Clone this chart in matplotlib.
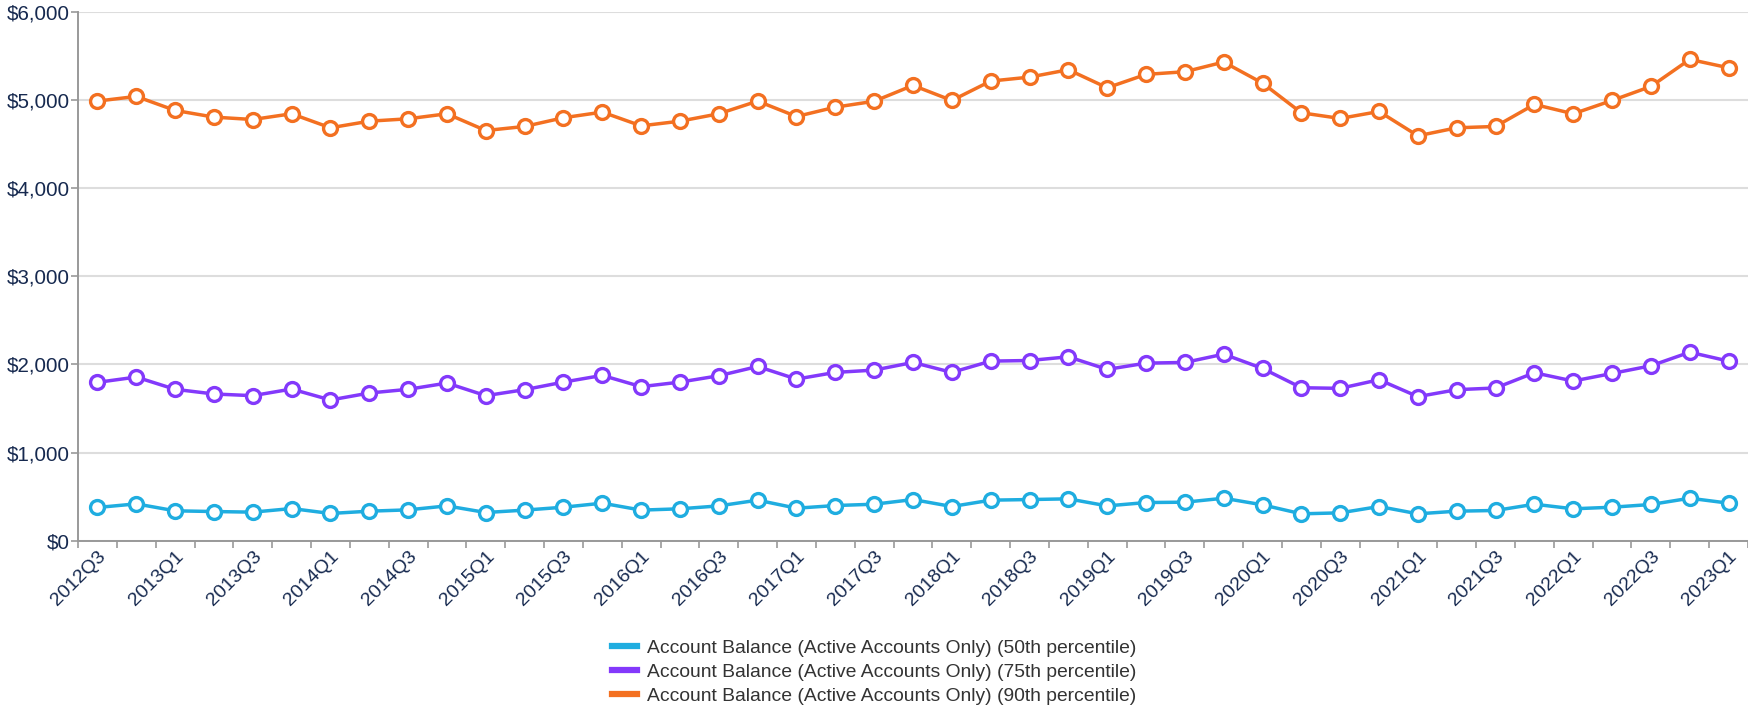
import matplotlib
matplotlib.use("Agg")
import matplotlib.pyplot as plt
from matplotlib.lines import Line2D
from matplotlib.ticker import FuncFormatter, FixedLocator

plt.rcParams["font.family"] = ["Liberation Sans", "DejaVu Sans"]

# ---------------------------------------------------------
# Data
# ---------------------------------------------------------
quarters = [
    "2012Q3", "2012Q4",
    "2013Q1", "2013Q2", "2013Q3", "2013Q4",
    "2014Q1", "2014Q2", "2014Q3", "2014Q4",
    "2015Q1", "2015Q2", "2015Q3", "2015Q4",
    "2016Q1", "2016Q2", "2016Q3", "2016Q4",
    "2017Q1", "2017Q2", "2017Q3", "2017Q4",
    "2018Q1", "2018Q2", "2018Q3", "2018Q4",
    "2019Q1", "2019Q2", "2019Q3", "2019Q4",
    "2020Q1", "2020Q2", "2020Q3", "2020Q4",
    "2021Q1", "2021Q2", "2021Q3", "2021Q4",
    "2022Q1", "2022Q2", "2022Q3", "2022Q4",
    "2023Q1",
]

p50 = [
    377, 418, 339, 331, 324, 365, 309, 335, 350, 395,
    320, 347, 380, 426, 347, 362, 395, 460, 369, 399,
    414, 467, 388, 460, 467, 475, 395, 433, 437, 482,
    407, 305, 316, 388, 305, 335, 343, 414, 362, 380,
    411, 482, 426,
]

p75 = [
    1797, 1857, 1718, 1665, 1646, 1721, 1597, 1676, 1718, 1789,
    1646, 1714, 1800, 1876, 1748, 1800, 1872, 1977, 1834, 1910,
    1936, 2023, 1910, 2038, 2045, 2087, 1944, 2015, 2023, 2117,
    1955, 1736, 1729, 1827, 1635, 1714, 1733, 1906, 1812, 1898,
    1985, 2139, 2038,
]

p90 = [
    4989, 5042, 4883, 4807, 4780, 4845, 4686, 4761, 4788, 4845,
    4655, 4701, 4800, 4864, 4708, 4761, 4845, 4989, 4814, 4920,
    4987, 5167, 4996, 5216, 5261, 5345, 5140, 5292, 5322, 5432,
    5193, 4856, 4792, 4871, 4595, 4686, 4701, 4951, 4845, 4996,
    5155, 5462, 5367,
]

series_labels = [
    "Account Balance (Active Accounts Only) (50th percentile)",
    "Account Balance (Active Accounts Only) (75th percentile)",
    "Account Balance (Active Accounts Only) (90th percentile)",
]
series_colors = ["#1fade0", "#8339fb", "#f37021"]

# ---------------------------------------------------------
# Plot
# ---------------------------------------------------------
fig = plt.figure(figsize=(17.48, 7.09), dpi=100)
ax = fig.add_axes([78 / 1748, 168.3 / 709, 1670 / 1748, 528.7 / 709])

x = list(range(len(quarters)))
for values, color in zip([p50, p75, p90], series_colors):
    ax.plot(x, values, color=color, lw=2.5, marker="o", markersize=10,
            markerfacecolor="white", markeredgecolor=color,
            markeredgewidth=2.4, zorder=3)

ax.set_xlim(-0.5, len(quarters) - 0.5)
ax.set_ylim(0, 6000)

# y axis
ax.set_yticks(range(0, 6001, 1000))
ax.yaxis.set_major_formatter(FuncFormatter(lambda v, _: f"${v:,.0f}"))
ax.grid(axis="y", color="#dddddd", lw=1.5, zorder=0)
ax.set_axisbelow(True)

# x axis: labels every other quarter, ticks on category boundaries
ax.set_xticks(x[::2])
ax.set_xticklabels(quarters[::2], rotation=45, ha="right",
                   rotation_mode="anchor")
ax.xaxis.set_minor_locator(FixedLocator([i - 0.5 for i in range(len(quarters) + 1)]))
ax.tick_params(axis="x", which="major", length=0, pad=5, labelsize=14)
ax.tick_params(axis="x", which="minor", length=5, width=1.2, color="#999999")
ax.tick_params(axis="y", length=5, width=1.2, color="#999999", pad=1,
               labelsize=14.8)
ax.tick_params(labelcolor="#16294f")

for side in ["top", "right"]:
    ax.spines[side].set_visible(False)
for side in ["left", "bottom"]:
    ax.spines[side].set_color("#999999")
    ax.spines[side].set_linewidth(1.4)

handles = [Line2D([], [], color=c, lw=4.5) for c in series_colors]
fig.legend(handles, series_labels, loc="center", bbox_to_anchor=(0.5, 0.052),
           frameon=False, fontsize=13.9, labelcolor="#333333",
           handlelength=1.3, handletextpad=0.5, labelspacing=0.35)

fig.savefig("out.png", dpi=100)
